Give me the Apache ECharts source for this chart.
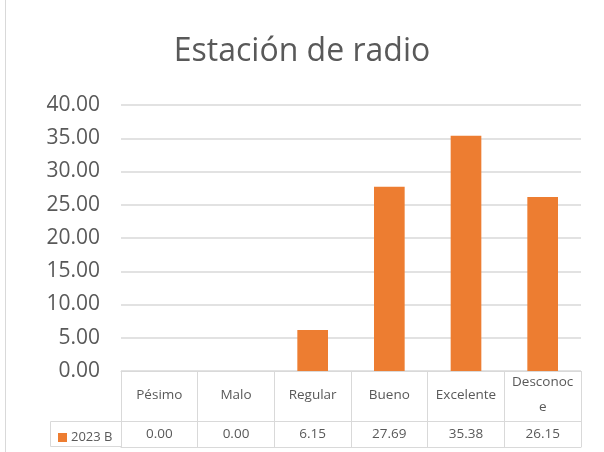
<!DOCTYPE html>
<html><head><meta charset="utf-8">
<script src="https://cdn.jsdelivr.net/npm/echarts@6/dist/echarts.min.js"></script>
<style>html,body{margin:0;padding:0;background:#fff}#c{width:604px;height:452px}</style>
</head><body><div id="c"></div>
<script>
const titleText = 'Estación de radio';
const categories = ['Pésimo', 'Malo', 'Regular', 'Bueno', 'Excelente', 'Desconoce'];
const seriesName = '2023 B';
const values = [0.00, 0.00, 6.15, 27.69, 35.38, 26.15];
const yTicks = [0, 5, 10, 15, 20, 25, 30, 35, 40];

const txt = '#595959', line = '#d9d9d9', orange = '#ED7D31';
const font = 'Open Sans';
const chart = echarts.init(document.getElementById('c'));
chart.setOption({
  animation: false,
  title: { text: titleText, left: 'center', top: 31, textStyle: { fontFamily: font, fontSize: 32, fontWeight: 'normal', color: txt } },
  legend: { data: [seriesName], left: 53, top: 426, itemWidth: 9, itemHeight: 9, itemGap: 4, icon: 'rect',
    textStyle: { fontFamily: font, fontSize: 13, color: txt, padding: [0,0,0,-1] } },
  grid: { left: 121, right: 23, top: 105, bottom: 81 },
  xAxis: [
    { type: 'category', data: categories, position: 'bottom',
      axisLine: { show: true, lineStyle: { color: line, width: 1 } },
      axisTick: { show: true, length: 76, lineStyle: { color: line } },
      axisLabel: { interval: 0, margin: 24, verticalAlign: 'middle', fontFamily: font, fontSize: 13.5, color: txt,
        width: 64, overflow: 'breakAll', lineHeight: 25 } },
    { type: 'category', data: values.map(v => v.toFixed(2)), position: 'bottom', offset: 50,
      axisLine: { show: true, lineStyle: { color: line } }, axisTick: { show: false },
      axisLabel: { interval: 0, margin: 13, verticalAlign: 'middle', fontFamily: font, fontSize: 13.5, color: txt } },
    { type: 'category', data: categories, position: 'bottom', offset: 76,
      axisLine: { show: true, lineStyle: { color: line } }, axisTick: { show: false }, axisLabel: { show: false } }
  ],
  yAxis: { type: 'value', min: yTicks[0], max: yTicks[yTicks.length-1], interval: 5,
    axisLine: { show: false }, axisTick: { show: false },
    axisLabel: { margin: 21, fontFamily: font, fontSize: 21, color: txt, formatter: v => v.toFixed(2) },
    splitLine: { lineStyle: { color: line, width: 1.5 } } },
  series: [{ name: seriesName, type: 'bar', data: values, barWidth: '40%',
    itemStyle: { color: orange } }],
  graphic: [
    { type: 'line', shape: { x1: 50.5, y1: 421.5, x2: 121, y2: 421.5 }, style: { stroke: line, lineWidth: 1 } },
    { type: 'line', shape: { x1: 50.5, y1: 446.5, x2: 121, y2: 446.5 }, style: { stroke: line, lineWidth: 1 } },
    { type: 'line', shape: { x1: 50.5, y1: 421.5, x2: 50.5, y2: 446.5 }, style: { stroke: line, lineWidth: 1 } },
    { type: 'line', shape: { x1: 5.5, y1: 0, x2: 5.5, y2: 452 }, style: { stroke: line, lineWidth: 1 } }
  ]
});
</script></body></html>
